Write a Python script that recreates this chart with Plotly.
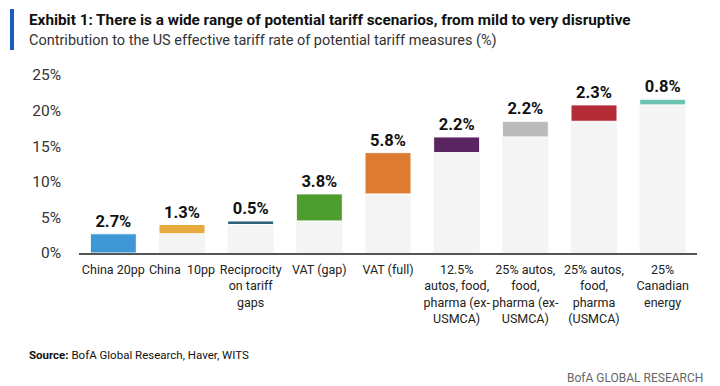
import plotly.graph_objects as go

categories = ["China 20pp", "China  10pp", "Reciprocity<br>on tariff<br>gaps", "VAT (gap)", "VAT (full)",
              "12.5%<br>autos, food,<br>pharma (ex-<br>USMCA)", "25% autos,<br>food,<br>pharma (ex-<br>USMCA)",
              "25% autos,<br>food,<br>pharma<br>(USMCA)", "25%<br>Canadian<br>energy"]
contribution = [2.7, 1.3, 0.5, 3.8, 5.8, 2.2, 2.2, 2.3, 0.8]
base_level = [0.0, 2.7, 4.0, 4.5, 8.3, 14.1, 16.3, 18.5, 20.8]
labels = ["2.7%", "1.3%", "0.5%", "3.8%", "5.8%", "2.2%", "2.2%", "2.3%", "0.8%"]
colors = ["#3f97d6", "#e8aa3c", "#2d6079", "#4c9c2e", "#dd7c31", "#5a2460", "#bbbbbb", "#b22b37", "#6cc3b1"]
y_ticks = [0, 5, 10, 15, 20, 25]
y_tick_labels = ["0%", "5%", "10%", "15%", "20%", "25%"]

FONT = "Roboto, sans-serif"

fig = go.Figure()
fig.add_trace(go.Bar(x=categories, y=base_level, marker=dict(color="#f4f4f4", line=dict(width=0)),
                     width=0.67, hoverinfo="skip", showlegend=False))
fig.add_trace(go.Bar(x=categories, y=contribution, base=base_level,
                     marker=dict(color=colors, line=dict(color="white", width=1)),
                     width=0.67, text=labels, textposition="outside",
                     textfont=dict(family=FONT, size=16.5, color="#111111", weight="bold"),
                     cliponaxis=False, showlegend=False))

fig.update_layout(
    width=720, height=386, barmode="overlay",
    margin=dict(l=79, r=23, t=75, b=133),
    plot_bgcolor="white", paper_bgcolor="white",
    font=dict(family=FONT, color="#222222"),
    xaxis=dict(range=[-0.5, 8.5], showgrid=False, showline=True, linecolor="#555555", linewidth=2,
               ticks="", tickfont=dict(size=12.5, color="#222222"), tickangle=0, automargin=False,
               ticklabelstandoff=4),
    yaxis=dict(range=[0, 25], tickvals=y_ticks, ticktext=y_tick_labels, showgrid=False, zeroline=False,
               showline=False, ticks="", tickfont=dict(size=15.5, color="#333333"), ticklabelstandoff=17,
               automargin=False),
    bargap=0.33,
)

fig.add_shape(type="rect", xref="paper", yref="paper", x0=-69/618, x1=-65/618,
              y0=1 + 25/178, y1=1 + 66/178, fillcolor="#1d5bc4", line=dict(width=0))
fig.add_annotation(xref="paper", yref="paper", x=-52/618, y=1 + 55/178, xanchor="left", yanchor="middle",
                   text="<b>Exhibit 1: There is a wide range of potential tariff scenarios, from mild to very disruptive</b>",
                   showarrow=False, font=dict(family=FONT, size=15.3, color="#111111"))
fig.add_annotation(xref="paper", yref="paper", x=-52/618, y=1 + 34/178, xanchor="left", yanchor="middle",
                   text="Contribution to the US effective tariff rate of potential tariff measures (%)",
                   showarrow=False, font=dict(family=FONT, size=14.5, color="#333333"))
fig.add_annotation(xref="paper", yref="paper", x=-52/618, y=-102/178, xanchor="left", yanchor="middle",
                   text="<b>Source:</b> BofA Global Research, Haver, WITS",
                   showarrow=False, font=dict(family=FONT, size=11.5, color="#111111"))
fig.add_annotation(xref="paper", yref="paper", x=1 + 8/618, y=-125/178, xanchor="right", yanchor="middle",
                   text="BofA GLOBAL RESEARCH",
                   showarrow=False, font=dict(family=FONT, size=12, color="#666666"))

fig.write_html("out.html", config={"displayModeBar": False},
               post_script="document.body.style.margin='0px';")
